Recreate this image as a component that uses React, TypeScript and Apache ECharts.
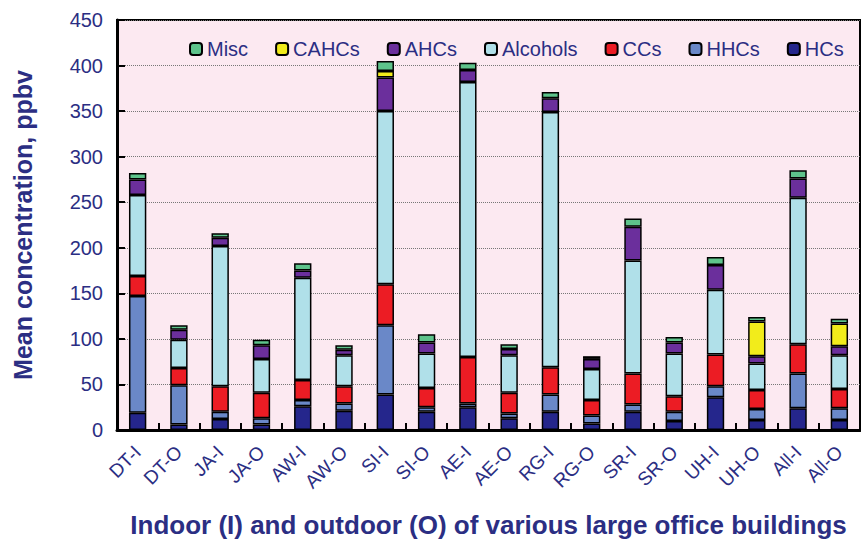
import React, { useEffect, useRef } from "react";
import * as echarts from "echarts";

const categories = ["DT-I", "DT-O", "JA-I", "JA-O", "AW-I", "AW-O", "SI-I", "SI-O", "AE-I", "AE-O", "RG-I", "RG-O", "SR-I", "SR-O", "UH-I", "UH-O", "All-I", "All-O"];
const hcs = [19, 6, 12, 6, 26, 21, 39, 20, 25, 13, 20, 7, 20, 10, 36, 11, 24, 11];
const hhcs = [128, 43, 8, 7, 7, 8, 76, 5, 4, 5, 19, 9, 8, 10, 12, 12, 38, 13];
const ccs = [22, 19, 28, 28, 22, 19, 45, 21, 51, 23, 30, 17, 34, 17, 35, 21, 32, 21];
const alcohols = [89, 31, 154, 37, 112, 34, 190, 38, 302, 41, 280, 34, 124, 47, 71, 29, 161, 37];
const ahcs = [17, 11, 9, 15, 8, 6, 37, 12, 13, 7, 15, 11, 37, 12, 27, 8, 21, 10];
const cahcs = [0, 0, 0, 0, 0, 0, 7, 0, 0, 0, 0, 0, 0, 0, 0, 38, 0, 25];
const misc = [7, 5, 5, 6, 8, 5, 11, 9, 8, 5, 7, 3, 9, 6, 9, 5, 9, 5];
const yTicks = [0, 50, 100, 150, 200, 250, 300, 350, 400, 450];

const NAVY = "#2B2E83";
const FONT = "'Liberation Sans', Arial, sans-serif";

const seriesDefs = [
  { name: "HCs", data: hcs, color: "#25268C" },
  { name: "HHCs", data: hhcs, color: "#6A88C8" },
  { name: "CCs", data: ccs, color: "#EC1C24" },
  { name: "Alcohols", data: alcohols, color: "#B0E0E9" },
  { name: "AHCs", data: ahcs, color: "#6B2F9C" },
  { name: "CAHCs", data: cahcs, color: "#F2EC1B" },
  { name: "Misc", data: misc, color: "#5EC38B" },
];

export default function App() {
  const ref = useRef<HTMLDivElement>(null);
  useEffect(() => {
    if (!ref.current) return;
    const chart = echarts.init(ref.current, undefined, { renderer: "svg" });
    chart.setOption({
      animation: false,
      backgroundColor: "#ffffff",
      textStyle: { fontFamily: FONT },
      grid: {
        left: 117,
        right: 1,
        top: 20,
        bottom: 110,
        show: true,
        backgroundColor: "#FCE9F1",
        borderColor: "#000",
        borderWidth: 2,
      },
      legend: {
        data: ["Misc", "CAHCs", "AHCs", "Alcohols", "CCs", "HHCs", "HCs"],
        left: 184,
        top: 34,
        itemWidth: 12,
        itemHeight: 12,
        itemGap: 27,
        textStyle: { color: NAVY, fontSize: 20, fontFamily: FONT },
      },
      xAxis: {
        type: "category",
        data: categories,
        name: "Indoor (I) and outdoor (O) of various large office buildings",
        nameLocation: "middle",
        nameGap: 82,
        nameTextStyle: { color: NAVY, fontSize: 26, fontWeight: "bold", fontFamily: FONT },
        axisLine: { lineStyle: { color: "#000", width: 3 } },
        axisTick: { show: true, inside: true, length: 7, lineStyle: { color: "#000", width: 2 } },
        axisLabel: { color: NAVY, fontSize: 19, rotate: 45, margin: 19, interval: 0, fontFamily: FONT },
      },
      yAxis: {
        type: "value",
        min: yTicks[0],
        max: yTicks[yTicks.length - 1],
        interval: 50,
        name: "Mean concentration, ppbv",
        nameLocation: "middle",
        nameGap: 82,
        nameTextStyle: { color: NAVY, fontSize: 25, fontWeight: "bold", fontFamily: FONT },
        axisLine: { show: true, lineStyle: { color: "#000", width: 3 } },
        axisTick: { show: true, inside: true, length: 8, lineStyle: { color: "#000", width: 2 } },
        axisLabel: { color: NAVY, fontSize: 20, margin: 14, fontFamily: FONT },
        splitLine: { show: true, lineStyle: { color: "#777", width: 1, type: "dotted" } },
      },
      series: seriesDefs.map((s) => ({
        name: s.name,
        type: "bar",
        stack: "total",
        barWidth: "42%",
        data: s.data.map((v) => (v === 0 ? null : v)),
        itemStyle: { color: s.color, borderColor: "#000", borderWidth: 1.5 },
      })),
    });
    return () => chart.dispose();
  }, []);
  return (
    <div
      ref={ref}
      style={{ position: "fixed", left: 0, top: 0, width: 861, height: 543 }}
    />
  );
}
